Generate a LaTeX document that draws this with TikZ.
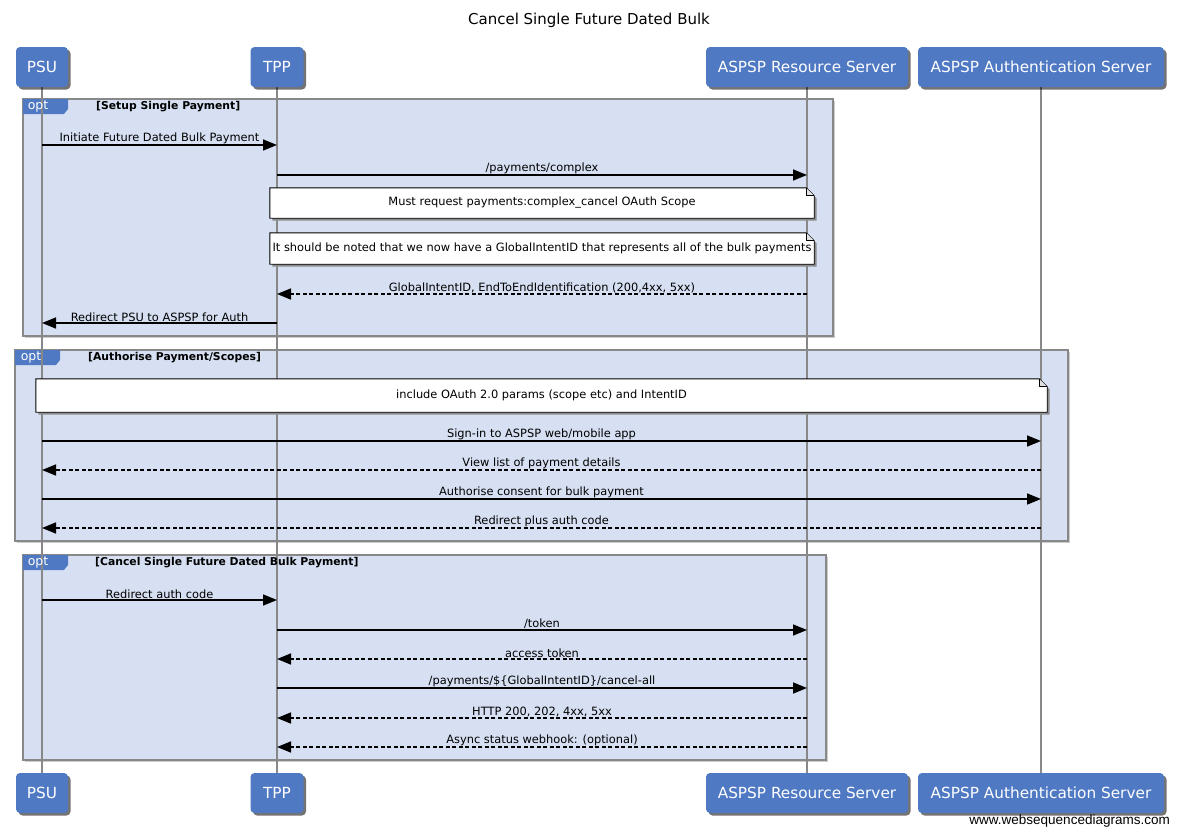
\documentclass[tikz,border=0pt]{standalone}
\usepackage{fontspec}
\setmainfont{DejaVu Sans}
\newfontfamily\wmfont{Liberation Sans}
\usetikzlibrary{arrows.meta,shadows,calc}
\definecolor{pblue}{RGB}{79,121,195}
\definecolor{ffill}{RGB}{214,224,242}
\definecolor{lgray}{RGB}{136,136,136}
\definecolor{foldgray}{RGB}{225,225,225}
\pgfdeclarelayer{frames}
\pgfdeclarelayer{lifelines}
\pgfdeclarelayer{notes}
\pgfsetlayers{frames,lifelines,notes,main}
\newcommand\noteshape[1]{%
\begin{pgfonlayer}{notes}
\fill[black!45] ([shift={(2.5pt,-2.5pt)}]#1.north west) -- ([shift={(-5.5pt,-2.5pt)}]#1.north east) -- ([shift={(2.5pt,-10.5pt)}]#1.north east) -- ([shift={(2.5pt,-2.5pt)}]#1.south east) -- ([shift={(2.5pt,-2.5pt)}]#1.south west) -- cycle;
\filldraw[fill=white, draw=black, line width=0.9pt] (#1.north west) -- ([xshift=-8pt]#1.north east) -- ([yshift=-8pt]#1.north east) -- (#1.south east) -- (#1.south west) -- cycle;
\filldraw[fill=foldgray, draw=black, line width=0.9pt, line join=round] ([xshift=-8pt]#1.north east) -- ([xshift=-8pt,yshift=-8pt]#1.north east) -- ([yshift=-8pt]#1.north east);
\end{pgfonlayer}}
\newcommand\optframe[4]{%
\begin{pgfonlayer}{frames}
\fill[black!20] (#1+2,#2+2) rectangle (#3+2,#4+2);
\filldraw[fill=ffill, draw=lgray, line width=1.6pt] (#1,#2) rectangle (#3,#4);
\fill[pblue] (#1,#2) -- (#1+45,#2) -- (#1+45,#2+10) -- (#1+41,#2+15) -- (#1,#2+15) -- cycle;
\end{pgfonlayer}}
\begin{document}
\begin{tikzpicture}[x=1pt,y=-1pt,
  part/.style={rectangle, rounded corners=4pt, fill=pblue, text=white,
    font=\fontsize{15.3}{17}\selectfont, minimum height=40pt, inner sep=0pt,
    drop shadow={shadow xshift=2.5pt,shadow yshift=-2.5pt,opacity=.55,fill=black}},
  lifeline/.style={draw=lgray, line width=2pt},
  msg/.style={line width=1.6pt, -{Triangle[length=14pt,width=11pt]}},
  ret/.style={msg, dash pattern=on 4pt off 2.5pt},
  lbl/.style={font=\fontsize{11.4}{12}\selectfont, above=-0.5pt, inner sep=1pt, midway},
  notet/.style={font=\fontsize{11.4}{12}\selectfont, inner sep=0pt},
  opttag/.style={font=\fontsize{12.5}{13}\selectfont, text=white, inner sep=0pt},
  fhead/.style={font=\bfseries\fontsize{10.8}{12}\selectfont, anchor=west, inner sep=0pt},
]
\useasboundingbox (0,0) rectangle (1179,836);

\node[font=\fontsize{15}{17}\selectfont] (title) at (589,20) {Cancel Single Future Dated Bulk};

% participants
\node[part, minimum width=52pt] (psu) at (42,67) {PSU};
\node[part, minimum width=53pt] (tpp) at (277,67) {TPP};
\node[part, minimum width=202pt] (rs) at (807,67) {ASPSP Resource Server};
\node[part, minimum width=246pt] (auth) at (1041,67) {ASPSP Authentication Server};
\node[part, minimum width=52pt] (psub) at (42,793) {PSU};
\node[part, minimum width=53pt] (tppb) at (277,793) {TPP};
\node[part, minimum width=202pt] (rsb) at (807,793) {ASPSP Resource Server};
\node[part, minimum width=246pt] (authb) at (1041,793) {ASPSP Authentication Server};

\begin{pgfonlayer}{lifelines}
\draw[lifeline] (psu.south) -- (psub.north);
\draw[lifeline] (tpp.south) -- (tppb.north);
\draw[lifeline] (rs.south) -- (rsb.north);
\draw[lifeline] (auth.south) -- (authb.north);
\end{pgfonlayer}

% frame 1
\optframe{23}{99}{833}{336}
\node[opttag] (opt1) at (38,106.5) {opt};
\node[fhead] (h1) at (96,107) {[Setup Single Payment]};
\draw[msg] (psu |- 0,145) -- (tpp |- 0,145) node[lbl] {Initiate Future Dated Bulk Payment};
\draw[msg] (tpp |- 0,175) -- (rs |- 0,175) node[lbl] {/payments/complex};
\node[notet, minimum width=544pt, minimum height=30pt] (n1) at (542,203) {Must request payments:complex\_cancel OAuth Scope};
\noteshape{n1}
\node[notet, minimum width=544pt, minimum height=31pt] (n2) at (542,248.5) {It should be noted that we now have a GlobalIntentID that represents all of the bulk payments};
\noteshape{n2}
\draw[ret] (rs |- 0,294) -- (tpp |- 0,294) node[lbl] {GlobalIntentID, EndToEndIdentification (200,4xx, 5xx)};
\draw[msg] (tpp |- 0,323) -- (psu |- 0,323) node[lbl] {Redirect PSU to ASPSP for Auth};

% frame 2
\optframe{15}{350}{1068}{541}
\node[opttag] (opt2) at (31,357.5) {opt};
\node[fhead] (h2) at (88,358) {[Authorise Payment/Scopes]};
\node[notet, minimum width=1011pt, minimum height=33pt] (n3) at (541.5,395.5) {include OAuth 2.0 params (scope etc) and IntentID};
\noteshape{n3}
\draw[msg] (psu |- 0,441) -- (auth |- 0,441) node[lbl] {Sign-in to ASPSP web/mobile app};
\draw[ret] (auth |- 0,470) -- (psu |- 0,470) node[lbl] {View list of payment details};
\draw[msg] (psu |- 0,499) -- (auth |- 0,499) node[lbl] {Authorise consent for bulk payment};
\draw[ret] (auth |- 0,528) -- (psu |- 0,528) node[lbl] {Redirect plus auth code};

% frame 3
\optframe{23}{555}{826}{760}
\node[opttag] (opt3) at (38,562.5) {opt};
\node[fhead] (h3) at (95,563) {[Cancel Single Future Dated Bulk Payment]};
\draw[msg] (psu |- 0,600) -- (tpp |- 0,600) node[lbl] {Redirect auth code};
\draw[msg] (tpp |- 0,630) -- (rs |- 0,630) node[lbl] {/token};
\draw[ret] (rs |- 0,659) -- (tpp |- 0,659) node[lbl] {access token};
\draw[msg] (tpp |- 0,688) -- (rs |- 0,688) node[lbl] {/payments/\$\{GlobalIntentID\}/cancel-all};
\draw[ret] (rs |- 0,718) -- (tpp |- 0,718) node[lbl] {HTTP 200, 202, 4xx, 5xx};
\draw[ret] (rs |- 0,747) -- (tpp |- 0,747) node[lbl] {Async status webhook: (optional)};

\node[font=\wmfont\fontsize{13.5}{15}\selectfont, anchor=east, inner sep=0pt] (wm) at (1170,821) {www.websequencediagrams.com};
\end{tikzpicture}
\end{document}
